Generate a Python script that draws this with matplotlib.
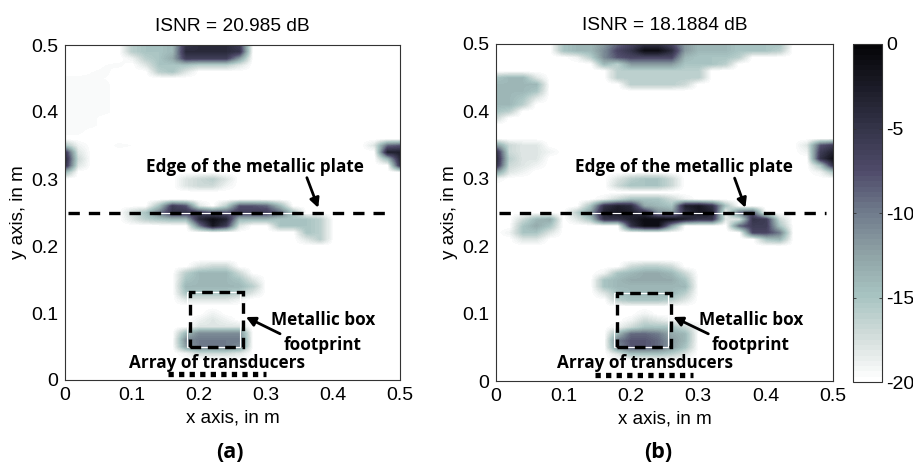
import numpy as np
import matplotlib
matplotlib.use("Agg")
import matplotlib.pyplot as plt
from matplotlib.colors import LinearSegmentedColormap
from matplotlib.patches import Rectangle

W, H = 913, 466
plt.rcParams['font.family'] = ['Liberation Sans', 'DejaVu Sans']

titles = ["ISNR = 20.985 dB", "ISNR = 18.1884 dB"]
panel_labels = ["(a)", "(b)"]
ticks = [0, 0.1, 0.2, 0.3, 0.4, 0.5]
tick_labels = ["0", "0.1", "0.2", "0.3", "0.4", "0.5"]
cbar_ticks = [0, -5, -10, -15, -20]
cbar_labels = ["0", "-5", "-10", "-15", "-20"]

# cells: (row, first column, dB values); rows are 0.01 m, columns 0.02 m, blank = -20 dB
cells_a = [
    (50, 5, [-16, -15, -15, -14, -5, -4, -4, -4, -6]),
    (49, 5, [-16, -15, -15, -14, -4, -4, -4, -4, -5]),
    (48, 5, [-19, -16, -15, -13, -6, -6, -6, -6, -12]),
    (47, 6, [-18, -15, -15, -15, -16, -16, -16, -18]),
    (47, 3, [-19.7, -19.5]),
    (46, 2, [-19.7, -19.5, -20, -20, -20, -16, -15, -18]),
    (45, 0, [-19.5, -19.5, -19.5, -19.7]),
    (44, 0, [-19.5, -19.5, -19.5, -19.5]),
    (43, 0, [-19.5, -19.5, -19.5, -19.5]),
    (42, 0, [-19.5, -19.5, -19.5, -19.5]),
    (41, 0, [-19.5, -19.5, -19.5, -19.5]),
    (40, 0, [-19.5, -19.5, -19.5, -19.5]),
    (39, 0, [-19.5, -19.5, -19.5]),
    (38, 0, [-19.5, -19.5, -19.5]),
    (37, 0, [-19.5, -19.5]),
    (35, 0, [-15, -19, -20, -20, -19.5, -19.7]),
    (34, 0, [-5, -18, -20, -19.7]),
    (33, 0, [-3, -17]),
    (32, 0, [-4, -18]),
    (31, 0, [-14, -20]),
    (35, 23, [-18, -9, -8]),
    (34, 23, [-20, -3, -3]),
    (33, 23, [-20, -14, -3]),
    (32, 23, [-20, -20, -4]),
    (30, 9, [-18, -17, -16, -18]),
    (29, 9, [-18, -17, -17, -19]),
    (26, 7, [-15, -6, -8, -18, -20, -16, -8, -8, -9, -14]),
    (25, 5, [-17, -15, -10, -5, -5, -6, -8, -8, -6, -6, -6, -9, -15]),
    (24, 5, [-18, -16, -15, -14, -14, -4, -1, -3, -14, -14, -14, -15, -15, -15, -16]),
    (23, 10, [-10, -2, -6, -18, -20, -20, -15, -15, -15, -16]),
    (22, 18, [-15, -16]),
    (21, 18, [-18, -16]),
    (17, 10, [-18, -17, -17]),
    (16, 9, [-16, -14, -14, -14, -17]),
    (15, 9, [-15, -14, -14, -14, -15, -18]),
    (14, 9, [-14, -14, -14, -14, -14, -16]),
    (13, 9, [-15, -15, -15, -15, -16, -18]),
    (12, 9, [-18, -18, -18, -18, -19]),
    (10, 11, [-19]),
    (9, 10, [-19, -18, -19]),
    (8, 10, [-18, -18, -18, -18]),
    (7, 9, [-14, -11, -11, -11, -11]),
    (6, 9, [-11, -10, -10, -10, -10]),
    (5, 9, [-12, -10, -10, -10, -11]),
    (4, 9, [-19, -17, -17, -17, -18]),
]
cells_b = [
    (50, 5, [-15, -14, -14, -12, -9, -7, -5, -5, -7, -12, -14, -14, -14, -15, -15, -15, -15]),
    (49, 5, [-15, -14, -14, -11, -7, -5, -1, -1, -4, -12, -14, -14, -14, -15, -15, -15, -16]),
    (48, 6, [-19, -16, -11, -8, -7, -7, -7, -7, -14, -15, -15, -15, -16]),
    (47, 8, [-14, -16, -12, -12, -12, -12, -15, -15, -15, -16]),
    (46, 9, [-16, -16, -16, -16, -16, -16, -16]),
    (45, 0, [-15, -14, -14, -18]),
    (45, 9, [-16, -16, -16, -16, -16, -16, -16]),
    (44, 0, [-14, -14, -14, -14]),
    (44, 10, [-16, -16, -16, -16, -17]),
    (43, 0, [-14, -14, -14, -15]),
    (42, 0, [-14, -14, -15, -18]),
    (41, 0, [-14, -14, -16]),
    (40, 0, [-15, -16]),
    (39, 0, [-17]),
    (35, 0, [-12, -17, -18, -18]),
    (34, 0, [-4, -17, -18, -18, -19]),
    (33, 0, [-3, -16, -18, -18]),
    (32, 0, [-4, -17, -18, -19]),
    (31, 0, [-12, -18, -19]),
    (30, 0, [-19]),
    (35, 23, [-18, -8, -6]),
    (34, 23, [-19, -6, -3]),
    (33, 24, [-5, -1]),
    (32, 24, [-15, -4]),
    (31, 24, [-19, -15]),
    (30, 9, [-18, -16, -15, -15, -17]),
    (29, 9, [-17, -15, -15, -15, -17]),
    (27, 8, [-19, -17, -15, -15, -15, -17, -19]),
    (26, 7, [-15, -5, -3, -4, -13, -14, -15, -3, -2, -5, -15]),
    (25, 6, [-16, -12, -3, -2, -3, -5, -11, -12, -5, -2, -3, -6, -15]),
    (25, 17, [-19, -9, -8]),
    (24, 6, [-18, -15, -5, -5, -3, -1, -1, -1, -3, -5, -5, -15]),
    (24, 17, [-18, -18, -5, -6, -17]),
    (24, 2, [-17, -14, -13]),
    (23, 2, [-15, -13, -15]),
    (23, 10, [-5, -1, -1, -12]),
    (23, 18, [-9, -6, -6, -15]),
    (22, 1, [-19, -15, -15, -18]),
    (22, 19, [-7, -7, -10]),
    (21, 2, [-18, -18]),
    (21, 20, [-15, -14]),
    (17, 10, [-17, -16, -16, -17]),
    (16, 8, [-19, -15, -14, -13, -13, -14, -17]),
    (15, 8, [-15, -14, -13, -13, -13, -13, -15]),
    (14, 8, [-15, -14, -14, -14, -14, -14, -14]),
    (13, 8, [-18, -15, -14, -14, -14, -14, -16]),
    (12, 9, [-16, -15, -15, -15, -16, -18]),
    (10, 11, [-19]),
    (9, 10, [-19, -17, -18, -19]),
    (8, 9, [-19, -17, -15, -15, -15, -17, -19]),
    (7, 9, [-14, -9, -9, -10, -13, -14]),
    (6, 9, [-10, -8, -8, -9, -12, -14]),
    (5, 9, [-11, -8, -8, -9, -12, -15]),
    (4, 9, [-18, -15, -15, -15, -16, -18]),
]

colour_stops = ["#ffffff", "#d4dedc", "#a8c4c2", "#8fa3a6", "#707c8c", "#4f4b6a", "#35354a", "#1c1c28", "#050508"]
cmap = LinearSegmentedColormap.from_list("bone_purple", colour_stops, N=64)


def grid_from(cells):
    grid = np.full((51, 26), -20.0)
    for row, col, values in cells:
        grid[row, col:col + len(values)] = values
    return grid


def axes_px(x0, x1, y0, y1):
    return fig.add_axes([x0 / W, 1 - y1 / H, (x1 - x0) / W, (y1 - y0) / H])


fig = plt.figure(figsize=(W / 100, H / 100), dpi=100)

panels = [
    dict(box=(65, 400, 45, 380), cells=cells_a, edge=(0.2836, 0.318), edge_arrow=((0.361, 0.302), (0.378, 0.257)),
         mb=(0.385, 0.0896), fp=(0.385, 0.052), mb_arrow=((0.321, 0.069), (0.27, 0.094)), arr=(0.227, 0.025),
         rect=(0.187, 0.05, 0.079, 0.081), label_x=230, arr_x=(0.153, 0.3)),
    dict(box=(496, 833, 44, 381), cells=cells_b, edge=(0.279, 0.3175), edge_arrow=((0.354, 0.301), (0.37, 0.257)),
         mb=(0.378, 0.0905), fp=(0.378, 0.053), mb_arrow=((0.315, 0.07), (0.263, 0.095)), arr=(0.221, 0.0267),
         rect=(0.18, 0.05, 0.08, 0.081), label_x=658, arr_x=(0.147, 0.293)),
]

bold = dict(family=['Open Sans', 'DejaVu Sans'], fontweight='bold', fontsize=12.3, color='black', ha='center', va='center')

for k, p in enumerate(panels):
    ax = axes_px(*p['box'])
    im = ax.imshow(grid_from(p['cells']), origin='lower', extent=(-0.01, 0.51, -0.005, 0.505), aspect='auto',
                   cmap=cmap, vmin=-20, vmax=0, interpolation='bilinear')
    ax.set_xlim(0, 0.5)
    ax.set_ylim(0, 0.5)
    ax.set_xticks(ticks, tick_labels)
    ax.set_yticks(ticks, tick_labels)
    ax.tick_params(direction='in', length=0, labelsize=14, pad=5)
    for s in ax.spines.values():
        s.set_linewidth(0.8)
        s.set_color('#333333')
    ax.set_xlabel("x axis, in m", fontsize=13.5, labelpad=4)
    ax.set_ylabel("y axis, in m", fontsize=13.5, labelpad=3)
    ax.set_title(titles[k], fontsize=13.8, pad=10)

    ax.plot([0.14, 0.38], [0.25, 0.25], color='white', lw=0.8)
    ax.plot([0.005, 0.49], [0.25, 0.25], color='black', lw=2.4, dashes=(3.4, 2.7))
    rx, ry, rw, rh = p['rect']
    ax.add_patch(Rectangle((rx - 0.005, ry), rw, rh, fill=False, ec='white', lw=0.8))
    ax.add_patch(Rectangle((rx, ry), rw, rh, fill=False, ec='black', lw=2.4, ls=(0, (3.2, 2.0))))
    ax.plot(p['arr_x'], [0.009, 0.009], color='black', lw=3.8, dashes=(1.0, 1.0))

    ax.text(*p['edge'], "Edge of the metallic plate", **bold)
    ax.text(*p['mb'], "Metallic box", **bold)
    ax.text(*p['fp'], "footprint", **bold)
    ax.text(*p['arr'], "Array of transducers", **bold)
    for start, end in (p['edge_arrow'], p['mb_arrow']):
        ax.annotate("", xy=end, xytext=start,
                    arrowprops=dict(arrowstyle='-|>,head_width=0.28,head_length=0.55', color='black', lw=2, shrinkA=0, shrinkB=0))
    fig.text(p['label_x'] / W, 1 - 453 / H, panel_labels[k], family=['Open Sans', 'DejaVu Sans'],
             fontweight='bold', fontsize=15.5, ha='center', va='center')

cax = axes_px(853, 882, 44, 382)
cb = fig.colorbar(im, cax=cax)
cb.set_ticks(cbar_ticks, labels=cbar_labels)
cb.ax.tick_params(direction='in', length=2, width=0.6, labelsize=14, color='#333333', pad=3, left=True, right=True)
cb.outline.set_linewidth(0.8)
cb.outline.set_edgecolor('#333333')

fig.savefig("out.png", dpi=100)
